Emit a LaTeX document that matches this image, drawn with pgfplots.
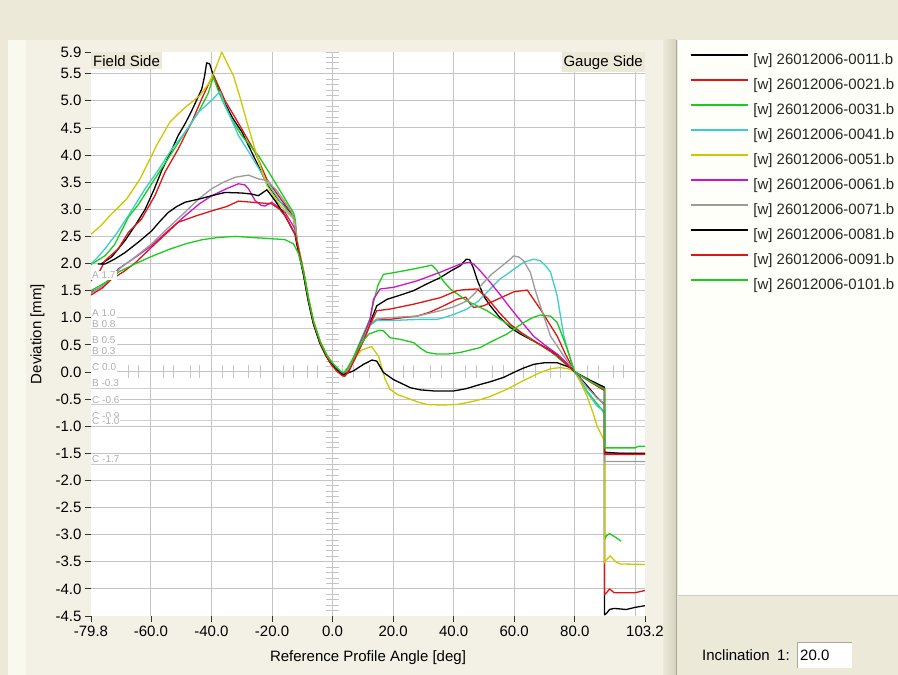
\documentclass[border=0pt]{standalone}
\usepackage{fontspec}
\setmainfont{Liberation Sans}
\usepackage{pgfplots}
\pgfplotsset{compat=1.18}

\definecolor{xpbeige}{RGB}{236,233,216}
\definecolor{xpdark}{RGB}{214,210,192}
\definecolor{xpline}{RGB}{172,168,153}
\definecolor{panel}{RGB}{243,241,229}
\definecolor{panelhi}{RGB}{250,249,240}
\definecolor{legendbg}{RGB}{255,255,250}
\definecolor{gridg}{RGB}{196,196,196}
\definecolor{thrline}{RGB}{205,205,205}
\definecolor{thrtext}{RGB}{175,175,175}
\definecolor{cBlack}{RGB}{0,0,0}
\definecolor{cRed}{RGB}{225,20,20}
\definecolor{cGreen}{RGB}{25,205,25}
\definecolor{cCyan}{RGB}{60,205,205}
\definecolor{cYellow}{RGB}{205,200,0}
\definecolor{cMagenta}{RGB}{205,20,205}
\definecolor{cGray}{RGB}{155,155,155}

\begin{document}
\begin{tikzpicture}[x=1pt,y=1pt,font=\fontsize{15}{18}\selectfont]
% the axis box sits at the origin; the window is drawn around it
\path[use as bounding box] (-91,-59) rectangle (807,616);
\clip (-91,-59) rectangle (807,616);
\begin{scope}[shift={(-91,-59)}]
\fill[xpbeige] (0,0) rectangle (898,675);
\fill[panel] (8,0) rectangle (663,635);
\fill[panelhi] (8,0) rectangle (26,635);
\shade[left color=xpbeige, right color=xpdark] (663,0) rectangle (676,635);
\draw[xpline, line width=1pt] (676.5,0) -- (676.5,635);
\fill[legendbg] (678,80) rectangle (898,635);
\draw[xpline!60, line width=1pt] (678,79.5) -- (898,79.5);
% inclination field
\node[anchor=west, inner sep=0pt] at (702,20) {Inclination\hspace{0.5em}1:};
\fill[white] (797,7) rectangle (852,33);
\draw[xpline, line width=1pt] (797.5,7) -- (797.5,32.5) -- (852,32.5);
\node[anchor=west, inner sep=0pt] at (800,20) {20.0};
\end{scope}

\begin{axis}[
  width=554pt, height=564pt, scale only axis,
  xmin=-79.8, xmax=103.2, ymin=-4.5, ymax=5.9,
  axis background/.style={fill=white},
  axis line style={draw=none},
  tick pos=left, tick align=outside, major tick length=6pt,
  tick style={black!80, line width=0.8pt},
  minor tick num=0,
  scaled ticks=false,
  /pgf/number format/fixed,
  /pgf/number format/fixed zerofill,
  /pgf/number format/precision=1,
  /pgf/number format/assume math mode=true,
  tick label style={font=\fontsize{15}{18}\selectfont, text=black},
  label style={font=\fontsize{15}{18}\selectfont},
  xtick={-79.8,-60,-40,-20,0,20,40,60,80,103.2},
  ytick={-4.5,-4,-3.5,-3,-2.5,-2,-1.5,-1,-0.5,0,0.5,1,1.5,2,2.5,3,3.5,4,4.5,5,5.5,5.9},
  extra x ticks={-60,-40,-20,0,20,40,60,80,100},
  extra x tick labels={},
  extra x tick style={grid=major, major tick length=0pt},
  extra y ticks={-4,-3.5,-3,-2.5,-2,-1.5,-1,-0.5,0,0.5,1,1.5,2,2.5,3,3.5,4,4.5,5,5.5},
  extra y tick labels={},
  extra y tick style={grid=major, major tick length=0pt},
  major grid style={gridg, line width=1pt},
  xlabel={Reference Profile Angle [deg]},
  ylabel={Deviation [mm]},
  xlabel style={at={(axis description cs:0.5,-0.0745)}, anchor=center},
  ylabel style={at={(axis description cs:-0.0966,0.5)}, anchor=center},
  legend cell align=left,
  legend image code/.code={\draw[#1, line width=1.4pt] (0pt,5.5pt) -- (57pt,5.5pt);},
  legend style={at={(axis description cs:1.0812,0.9968)}, anchor=north west,
    draw=none, fill=none, inner sep=0pt, outer sep=0pt, row sep=11.5pt,
    nodes={inner sep=0pt, text height=10.5pt, text depth=3pt},
    /tikz/every odd column/.append style={column sep=5pt},
    font=\fontsize{15}{18}\selectfont, text=black!85},
  every axis plot/.append style={line width=1.3pt, line join=round},
]

% limit lines
\pgfplotsinvokeforeach{1.7,0.8,0.3,-0.3,-0.6,-0.9,-1.7}{
  \draw[thrline, line width=1pt] (axis cs:-79.8,#1) -- (axis cs:103.2,#1);
}

% ruler marks along the zero lines
\pgfplotsinvokeforeach{-4.4,-4.3,...,5.85}{
  \draw[gridg, line width=1pt] (axis cs:-2.15,#1) -- (axis cs:2.15,#1);
}
\pgfplotsinvokeforeach{-67.4,-64.1,-56,-52.6,-47,-43.8,-36.2,-32.8,-27.9,-23.9,-16.3,-13,-8.4,-5.1,3.4,6.9,12.2,23.4,26.8,32.3,36.1,43.8,47.7,52.7,56.5,63.1,67,72,75.3,84.1,87.9,92.9,96.2}{
  \draw[gridg, line width=1pt] (axis cs:#1,-0.12) -- (axis cs:#1,0.13);
}

% 26012006-0011
\addplot[cBlack] coordinates {
(-76.5,1.99) (-73.0,2.12) (-68.6,2.42) (-65.0,2.72) (-61.9,3.00) (-59.0,3.36) (-56.4,3.72) (-53.5,4.05) (-51.0,4.36) (-48.5,4.60) (-46.5,4.82) (-43.2,5.22) (-42.3,5.45) (-41.6,5.70) (-40.6,5.68) (-39.4,5.47) (-37.5,5.18) (-35.5,4.95) (-33,4.68) (-30.0,4.43) (-26.0,3.97) (-21.7,3.47) (-17.5,3.15) (-13.5,2.92) (-12.6,2.80) (-12.0,2.55) (-11.8,2.40) (-9.6,1.83) (-8.0,1.34) (-6.3,0.91) (-4.1,0.54) (-2.0,0.30) (-0.8,0.20) (1.0,0.08) (2.5,0.0) (3.6,-0.04) (5.0,0.05) (6.9,0.23) (8.5,0.42) (10.2,0.60) (12.4,0.91) (14.6,1.22) (18.0,1.34) (22.0,1.41) (26.8,1.50) (31.0,1.62) (35.6,1.74) (39.0,1.86) (42.2,1.96) (44.2,2.08) (45.3,2.07) (46.5,1.92) (47.7,1.71) (49.9,1.40) (52.1,1.22) (55.0,1.02) (58.7,0.82) (62.0,0.70) (66.4,0.57) (70.0,0.46) (74.2,0.32) (77.0,0.17) (80.0,0.0) (84.0,-0.25) (87.0,-0.45) (89.8,-0.60) (89.8,-4.48) (90.5,-4.45) (91.5,-4.38) (93.0,-4.36) (97.0,-4.38) (100.0,-4.34) (103.2,-4.31)
};
\addlegendentry{[w] 26012006-0011.b}

% 26012006-0021
\addplot[cRed] coordinates {
(-79.8,1.68) (-77.0,1.85) (-75.2,2.05) (-70.8,2.27) (-67.5,2.57) (-63.1,2.82) (-58.7,3.25) (-55.4,3.68) (-51.0,4.11) (-46.5,4.61) (-43.2,5.04) (-41.0,5.30) (-39.4,5.48) (-37.5,5.25) (-35.5,5.00) (-32.5,4.72) (-30.0,4.48) (-25.6,4.05) (-21.7,3.55) (-17.0,3.18) (-13.2,2.90) (-12.5,2.70) (-11.9,2.45) (-9.7,1.85) (-8.1,1.36) (-6.4,0.93) (-4.2,0.55) (-2.1,0.30) (-0.6,0.16) (1.2,0.04) (2.8,-0.04) (3.8,-0.08) (5.2,0.02) (7.1,0.21) (8.7,0.40) (10.4,0.60) (12.4,0.88) (14.6,0.97) (19.0,0.97) (23.0,1.00) (27.9,1.03) (32.0,1.10) (35.6,1.19) (41.1,1.34) (44.0,1.38) (45.5,1.25) (46.6,1.19) (49.9,1.22) (52.1,1.28) (57.6,1.42) (60.0,1.48) (64.3,1.51) (66.4,1.34) (68.6,1.16) (71.5,0.90) (74.2,0.66) (77.0,0.32) (80.0,0.0) (85.0,-0.18) (88.5,-0.30) (89.8,-0.34) (89.8,-4.11) (90.5,-4.07) (91.5,-4.00) (93.0,-4.07) (97.0,-4.07) (100.0,-4.07) (103.2,-4.03)
};
\addlegendentry{[w] 26012006-0021.b}

% 26012006-0031
\addplot[cGreen] coordinates {
(-79.8,1.98) (-75.0,2.15) (-72.0,2.35) (-67.5,2.85) (-64.0,3.10) (-60.0,3.45) (-56.5,3.75) (-53.0,4.05) (-48.7,4.42) (-44.3,4.79) (-41.0,5.15) (-39.4,5.44) (-37.5,5.15) (-35.5,4.90) (-33.0,4.62) (-30.0,4.36) (-24.5,3.99) (-21.0,3.68) (-18.4,3.44) (-14.5,3.08) (-12.9,2.94) (-12.3,2.80) (-11.7,2.42) (-9.5,1.85) (-7.9,1.35) (-6.2,0.92) (-4.0,0.55) (-1.9,0.31) (-0.7,0.21) (1.1,0.09) (2.6,0.01) (3.7,-0.03) (5.1,0.07) (6.9,0.27) (8.5,0.48) (10.2,0.70) (12.4,0.98) (13.5,1.28) (15.0,1.60) (16.8,1.80) (20.1,1.83) (25.0,1.88) (31.2,1.95) (32.8,1.97) (34.5,1.87) (36.5,1.68) (38.9,1.53) (44.4,1.31) (51.0,1.13) (55.4,0.97) (58.7,0.85) (65.0,0.62) (72.0,0.38) (80.0,0.0) (84.0,-0.35) (87.5,-0.60) (89.8,-0.74) (89.8,-3.09) (90.5,-3.02) (91.5,-2.98) (93.5,-3.05) (95.3,-3.12)
};
\addlegendentry{[w] 26012006-0031.b}

% 26012006-0041
\addplot[cCyan] coordinates {
(-79.8,1.99) (-77.5,2.12) (-75.2,2.27) (-71.0,2.58) (-67.5,2.88) (-61.9,3.38) (-57.6,3.72) (-53.1,4.11) (-48.7,4.42) (-44.3,4.79) (-39.9,5.01) (-37.2,5.17) (-35.5,4.92) (-31.1,4.36) (-26.7,3.97) (-21.7,3.50) (-17.0,3.12) (-13.0,2.84) (-12.4,2.70) (-11.8,2.40) (-9.6,1.82) (-8.0,1.33) (-6.3,0.90) (-4.1,0.53) (-2.0,0.29) (-0.8,0.19) (1.0,0.07) (2.5,-0.01) (3.6,-0.05) (5.0,0.04) (6.9,0.22) (8.5,0.40) (10.2,0.58) (12.4,0.86) (14.6,0.95) (20.0,0.95) (29.0,0.97) (34.5,0.97) (36.7,1.00) (40.0,1.06) (44.4,1.16) (48.0,1.30) (51.0,1.47) (55.4,1.72) (57.6,1.80) (60.0,1.90) (63.1,2.02) (66.4,2.08) (68.6,2.05) (70.5,1.95) (72.0,1.84) (74.2,1.40) (76.4,0.66) (78.6,0.23) (80.0,0.0) (84.1,-0.38) (87.4,-0.63) (88.8,-0.69) (89.8,-0.78)
};
\addlegendentry{[w] 26012006-0041.b}

% 26012006-0051
\addplot[cYellow] coordinates {
(-79.8,2.54) (-76.5,2.70) (-73.6,2.88) (-68.0,3.19) (-63.6,3.56) (-60.3,3.93) (-58.1,4.18) (-53.7,4.61) (-49.3,4.85) (-43.8,5.10) (-40.5,5.35) (-38.5,5.62) (-36.6,5.90) (-34.7,5.68) (-32.8,5.47) (-30.5,5.05) (-28.3,4.61) (-25.0,3.99) (-21.7,3.44) (-17.3,3.07) (-12.9,2.82) (-12.2,2.60) (-11.7,2.42) (-9.5,1.84) (-7.9,1.35) (-6.2,0.92) (-4.0,0.55) (-1.9,0.31) (-0.7,0.21) (1.1,0.08) (2.6,0.0) (3.7,-0.04) (5.1,0.06) (6.9,0.23) (9.5,0.40) (11.9,0.45) (12.8,0.47) (15.2,0.29) (17.4,-0.14) (19.0,-0.32) (21.5,-0.42) (24.6,-0.48) (28.0,-0.55) (31.2,-0.60) (36.0,-0.61) (41.1,-0.60) (45.0,-0.56) (48.8,-0.51) (52.1,-0.45) (57.6,-0.32) (63.0,-0.16) (68.6,-0.01) (72.0,0.06) (75.3,0.08) (78.6,0.05) (80.2,-0.01) (82.0,-0.20) (84.1,-0.45) (86.0,-0.75) (87.4,-1.00) (89.6,-1.25) (89.8,-1.30) (89.8,-3.52) (90.5,-3.46) (91.7,-3.39) (93.5,-3.50) (95.0,-3.54) (103.2,-3.55)
};
\addlegendentry{[w] 26012006-0051.b}

% 26012006-0061
\addplot[cMagenta] coordinates {
(-79.8,1.47) (-77.0,1.55) (-75.0,1.62) (-72.5,1.78) (-70.8,1.90) (-65.0,2.12) (-59.8,2.33) (-54.0,2.62) (-48.7,2.88) (-44.0,3.10) (-39.9,3.25) (-35.0,3.38) (-31.1,3.47) (-29.0,3.45) (-27.8,3.38) (-26.5,3.25) (-25.6,3.16) (-23.5,3.07) (-22.3,3.06) (-20.1,3.13) (-15.7,2.94) (-12.4,2.64) (-11.9,2.40) (-9.7,1.82) (-8.1,1.33) (-6.4,0.90) (-4.2,0.53) (-2.1,0.29) (-0.9,0.19) (0.9,0.07) (2.4,-0.01) (3.5,-0.05) (4.9,0.05) (6.8,0.24) (8.4,0.44) (10.1,0.64) (12.4,0.98) (13.5,1.34) (15.7,1.53) (20.1,1.56) (27.9,1.68) (35.6,1.84) (42.2,1.99) (44.9,2.02) (46.6,1.99) (49.0,1.85) (52.1,1.65) (55.0,1.45) (58.7,1.18) (62.5,0.92) (66.4,0.66) (70.0,0.50) (74.2,0.33) (77.0,0.18) (80.0,0.0) (85.0,-0.17) (89.8,-0.30) (89.8,-1.50) (95.0,-1.50) (103.2,-1.51)
};
\addlegendentry{[w] 26012006-0061.b}

% 26012006-0071
\addplot[cGray] coordinates {
(-79.8,1.45) (-75.0,1.62) (-70.0,1.92) (-65.0,2.13) (-60.0,2.35) (-55.0,2.62) (-50.0,2.88) (-44.0,3.20) (-39.9,3.38) (-36.0,3.50) (-32.2,3.59) (-27.8,3.63) (-24.5,3.56) (-21.7,3.53) (-18.5,3.35) (-15.7,3.13) (-13.5,2.95) (-12.4,2.76) (-11.8,2.42) (-9.6,1.84) (-8.0,1.35) (-6.3,0.92) (-4.1,0.55) (-2.0,0.31) (-0.8,0.21) (1.0,0.09) (2.5,0.01) (3.6,-0.03) (5.0,0.06) (6.9,0.24) (8.5,0.43) (10.2,0.62) (12.4,0.90) (14.6,0.97) (18.0,1.00) (27.9,1.03) (35.6,1.13) (40.0,1.20) (44.4,1.31) (47.0,1.45) (49.9,1.65) (52.5,1.80) (55.4,1.93) (58.7,2.08) (59.8,2.14) (61.5,2.12) (63.1,2.05) (65.3,1.84) (67.0,1.50) (68.6,1.22) (72.0,0.66) (76.4,0.29) (80.0,0.0) (84.0,-0.28) (87.0,-0.46) (89.8,-0.60) (89.8,-1.65) (103.2,-1.65)
};
\addlegendentry{[w] 26012006-0071.b}

% 26012006-0081
\addplot[cBlack] coordinates {
(-77.5,1.99) (-75.2,1.99) (-72.0,2.08) (-68.6,2.20) (-64.0,2.40) (-59.8,2.60) (-57.0,2.78) (-54.3,2.94) (-51.5,3.05) (-48.7,3.13) (-44.0,3.19) (-39.9,3.25) (-35.5,3.31) (-30.0,3.30) (-26.7,3.28) (-24.5,3.25) (-21.7,3.36) (-19.0,3.16) (-15.7,2.88) (-12.4,2.54) (-11.9,2.38) (-9.7,1.82) (-8.1,1.33) (-6.4,0.90) (-4.2,0.53) (-2.1,0.29) (-0.9,0.19) (0.9,0.07) (2.4,-0.01) (3.6,-0.05) (6.9,0.02) (10.2,0.14) (13.0,0.22) (14.6,0.20) (16.8,-0.01) (20.1,-0.14) (25.7,-0.29) (29.0,-0.33) (33.4,-0.35) (40.0,-0.35) (44.0,-0.31) (48.8,-0.23) (52.1,-0.18) (56.5,-0.10) (59.8,-0.01) (63.0,0.07) (66.4,0.14) (70.0,0.17) (74.2,0.17) (78.6,0.08) (80.0,0.0) (85.0,-0.15) (89.8,-0.28) (89.8,-1.48) (95.0,-1.50) (103.2,-1.50)
};
\addlegendentry{[w] 26012006-0081.b}

% 26012006-0091
\addplot[cRed] coordinates {
(-79.8,1.42) (-76.0,1.55) (-73.0,1.71) (-69.0,1.85) (-65.0,2.02) (-59.8,2.30) (-55.0,2.55) (-51.0,2.76) (-45.0,2.88) (-39.9,2.97) (-35.0,3.05) (-31.1,3.15) (-26.7,3.13) (-20.1,3.10) (-17.5,3.00) (-15.7,2.88) (-12.4,2.54) (-11.7,2.38) (-9.5,1.81) (-7.9,1.32) (-6.2,0.89) (-4.0,0.52) (-1.9,0.28) (-0.5,0.14) (1.3,0.02) (3.0,-0.06) (4.0,-0.08) (5.3,0.0) (7.0,0.20) (8.7,0.40) (10.4,0.60) (12.4,0.88) (14.6,1.13) (19.0,1.16) (26.8,1.25) (35.6,1.37) (41.1,1.50) (44.0,1.52) (47.7,1.53) (51.0,1.37) (55.0,1.10) (58.7,0.88) (62.5,0.72) (66.4,0.58) (70.0,0.45) (74.2,0.30) (80.0,0.0) (85.0,-0.17) (89.8,-0.32) (89.8,-1.52) (103.2,-1.52)
};
\addlegendentry{[w] 26012006-0091.b}

% 26012006-0101
\addplot[cGreen] coordinates {
(-79.8,1.50) (-75.0,1.65) (-70.8,1.84) (-65.0,2.00) (-59.8,2.13) (-54.0,2.26) (-48.7,2.36) (-43.0,2.44) (-37.7,2.48) (-32.0,2.50) (-26.7,2.48) (-21.0,2.46) (-15.7,2.44) (-12.9,2.36) (-11.4,2.20) (-9.6,1.85) (-8.0,1.36) (-6.3,0.93) (-4.1,0.56) (-2.0,0.32) (-0.8,0.22) (1.0,0.10) (2.5,0.02) (3.6,-0.02) (5.0,0.08) (6.9,0.26) (8.5,0.44) (10.2,0.58) (12.0,0.70) (13.5,0.73) (15.5,0.77) (16.8,0.76) (19.0,0.63) (22.4,0.60) (26.8,0.54) (29.0,0.44) (31.2,0.36) (34.5,0.33) (38.0,0.33) (42.2,0.36) (48.8,0.45) (52.1,0.55) (57.6,0.70) (63.1,0.91) (66.0,1.00) (68.6,1.05) (72.0,1.03) (74.2,0.91) (76.0,0.65) (77.5,0.42) (80.0,0.0) (85.0,-0.17) (88.5,-0.28) (89.8,-0.31) (89.8,-1.40) (95.0,-1.40) (100.0,-1.40) (101.0,-1.37) (103.2,-1.37)
};
\addlegendentry{[w] 26012006-0101.b}

% limit labels, on top of the curves
\newcommand{\limlabel}[2]{\node[anchor=south west, fill=white, inner xsep=1pt, inner ysep=1pt,
  text=thrtext, font=\fontsize{10}{11}\selectfont] at (axis cs:-79.8,#2) {#1};}
\limlabel{A 1.7}{1.7}
\limlabel{A 1.0}{1.0}
\limlabel{B 0.8}{0.8}
\limlabel{B 0.3}{0.3}
\limlabel{B 0.5}{0.5}
\limlabel{C 0.0}{0.0}
\limlabel{B -0.3}{-0.3}
\limlabel{C -0.6}{-0.6}
\limlabel{C -0.9}{-0.9}
\limlabel{C -1.0}{-1.0}
\limlabel{C -1.7}{-1.7}

% side captions
\node[anchor=north west, fill=xpbeige, inner xsep=2pt, inner ysep=3pt] at (rel axis cs:0,1) {Field Side};
\node[anchor=north east, fill=xpbeige, inner xsep=2pt, inner ysep=3pt] at (rel axis cs:1,1) {Gauge Side};
\end{axis}
\end{tikzpicture}
\end{document}
